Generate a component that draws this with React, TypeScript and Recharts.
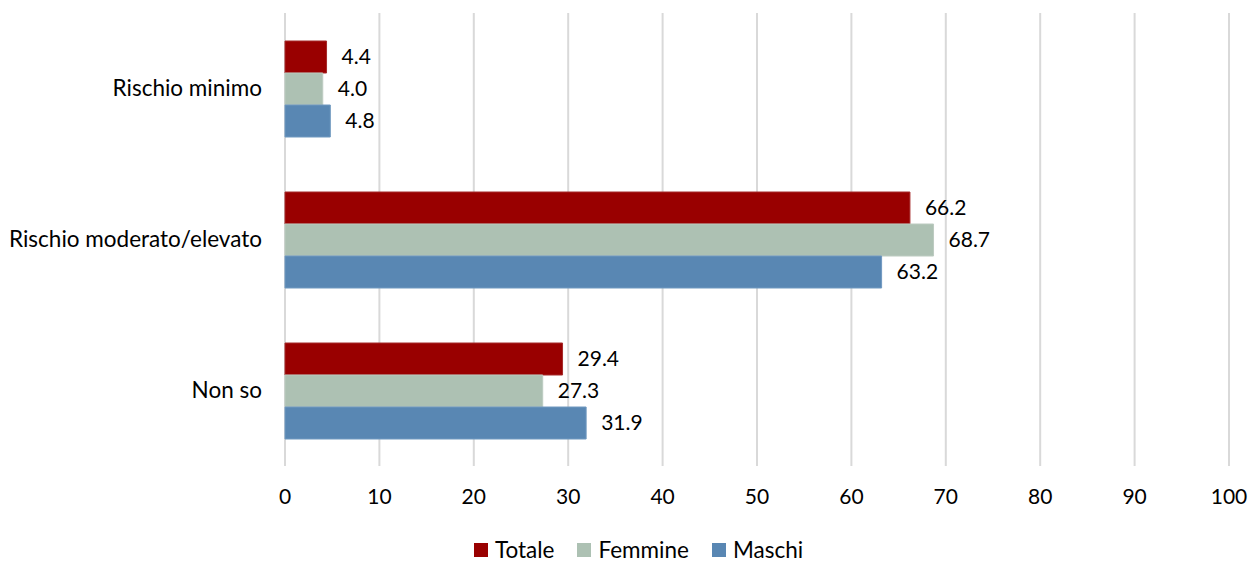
import { BarChart, Bar, XAxis, YAxis, CartesianGrid, Legend, LabelList } from 'recharts'

const categories = ['Rischio minimo', 'Rischio moderato/elevato', 'Non so']
const totale = [4.4, 66.2, 29.4]
const femmine = [4.0, 68.7, 27.3]
const maschi = [4.8, 63.2, 31.9]
const xTicks = [0, 10, 20, 30, 40, 50, 60, 70, 80, 90, 100]

const RED = '#990000'
const GREEN = '#adc1b3'
const BLUE = '#5987b3'
const FONT = 'Lato, "Open Sans", sans-serif'

const series = [
  { key: 'Totale', color: RED, stroke: '#a52a2a' },
  { key: 'Femmine', color: GREEN, stroke: '#bccbc0' },
  { key: 'Maschi', color: BLUE, stroke: '#7099c0' },
]

const data = categories.map((c, i) => ({
  name: c,
  Totale: totale[i],
  Femmine: femmine[i],
  Maschi: maschi[i],
}))

const fmt = (v: any) => Number(v).toFixed(1)

// legenda nell'ordine delle serie (Recharts 3 la ordinerebbe per nome)
function LegendContent() {
  return (
    <div style={{
      display: 'flex', justifyContent: 'center', gap: 23, height: 26, lineHeight: '26px',
      paddingLeft: 48, fontSize: 22.5, fontFamily: FONT, color: '#000',
    }}>
      {series.map(s => (
        <div key={s.key} style={{ display: 'flex', alignItems: 'center', gap: 7 }}>
          <span style={{ display: 'inline-block', width: 14, height: 14, background: s.color }} />
          <span>{s.key}</span>
        </div>
      ))}
    </div>
  )
}

export default function App() {
  return (
    <div style={{ width: 1258, height: 563, fontFamily: FONT }}>
      <style>{`body { margin: 0; }`}</style>
      <BarChart
        width={1258}
        height={563}
        data={data}
        layout="vertical"
        margin={{ top: 13, right: 29, left: 0, bottom: 4 }}
        barGap={0}
        barCategoryGap={28}
      >
        <CartesianGrid horizontal={false} stroke="#d9d9d9" strokeWidth={2} />
        <XAxis
          type="number"
          domain={[0, 100]}
          ticks={xTicks}
          axisLine={false}
          tickLine={false}
          tickSize={0}
          tickMargin={23}
          height={67}
          tick={{ fill: '#000', fontSize: 21, fontFamily: FONT }}
        />
        <YAxis
          type="category"
          dataKey="name"
          width={285}
          axisLine={false}
          tickLine={false}
          tickSize={0}
          tickMargin={23}
          tick={{ fill: '#000', fontSize: 22.5, fontFamily: FONT }}
        />
        <Legend
          verticalAlign="bottom"
          align="center"
          content={<LegendContent />}
          wrapperStyle={{ bottom: 0 }}
        />
        {series.map(s => (
          <Bar key={s.key} dataKey={s.key} fill={s.color} stroke={s.stroke} strokeWidth={1} isAnimationActive={false}>
            <LabelList dataKey={s.key} position="right" offset={15} formatter={fmt} fill="#000" fontSize={21} fontFamily={FONT} />
          </Bar>
        ))}
      </BarChart>
    </div>
  )
}
